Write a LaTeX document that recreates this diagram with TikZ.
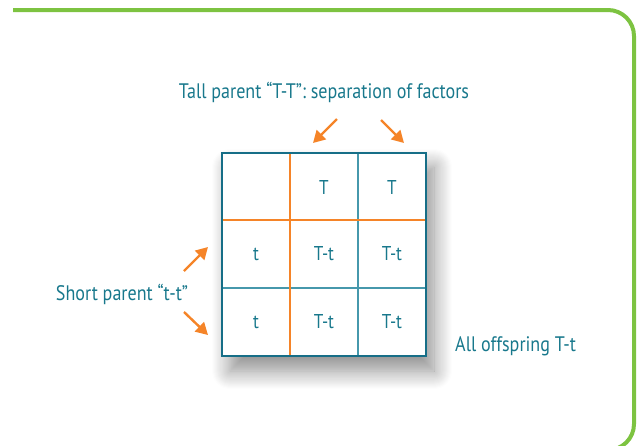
\documentclass[tikz,border=0pt]{standalone}
\usepackage{fontspec}
\setmainfont{PT Sans}[FakeStretch=0.86]
\usetikzlibrary{arrows.meta}
\usetikzlibrary{shadows.blur}

\definecolor{tealtxt}{RGB}{24,120,140}
\definecolor{tealline}{RGB}{22,110,135}
\definecolor{teallight}{RGB}{70,152,172}
\definecolor{punnorange}{RGB}{245,132,40}
\definecolor{framegreen}{RGB}{125,195,65}

\tikzset{
 label text/.style={text=tealtxt, font=\fontsize{21}{24}\selectfont, inner sep=0},
 cell/.style={text=tealtxt, font=\fontsize{20}{24}\selectfont, minimum size=68pt, inner sep=0},
 parent arrow/.style={punnorange, line width=2.4pt, -{Triangle[length=12pt,width=13pt]}},
}

\begin{document}
\begin{tikzpicture}[x=1pt, y=-1pt]
\useasboundingbox (0,0) rectangle (637,445);
\begin{scope}
\clip (0,0) rectangle (637,445);
% frame
\draw[framegreen, line width=4pt] (13,10) -- (608,10) arc[start angle=-90, end angle=0, radius=26]
  -- (634,424) arc[start angle=0, end angle=90, radius=26] -- (560,450);
\end{scope}

% grid with shadow
\fill[white, blur shadow={shadow xshift=8pt, shadow yshift=-14pt, shadow blur radius=18pt, shadow opacity=45, shadow blur steps=18}]
  (222,153) rectangle (426,357);
\foreach \x [count=\i] in {256,324,392} {
 \foreach \y [count=\j] in {187,254,322} {
  \node[cell] (c\j\i) at (\x,\y) {};
 }
}
\node[cell] at (c12) {T};
\node[cell] at (c13) {T};
\node[cell] at (c21) {t};
\node[cell] at (c31) {t};
\foreach \a/\b in {22/23,32/33} {
 \node[cell] at (c\a) {T-t};
 \node[cell] at (c\b) {T-t};
}
\draw[teallight, line width=1.5pt] (c13.north west) -- (c33.south west);
\draw[teallight, line width=1.5pt] (c31.north west) -- (c33.north east);
\draw[punnorange, line width=1.8pt] (c12.north west) -- (c32.south west);
\draw[punnorange, line width=1.8pt] (c21.north west) -- (c23.north east);
\draw[tealline, line width=2pt] (c11.north west) rectangle (c33.south east);

% labels
\node[label text] (tall) at (324,92) {Tall parent “T-T”: separation of factors};
\node[label text] (short) at (122,294) {Short parent “t-t”};
\node[label text, anchor=west] (all) at (455,346) {All offspring T-t};

% arrows
\coordinate (tl0) at (337,119);
\coordinate (tl1) at (313,143);
\coordinate (tr0) at (381,120);
\coordinate (tr1) at (404,143);
\coordinate (su0) at (184,271);
\coordinate (su1) at (208,247);
\coordinate (sd0) at (184,312);
\coordinate (sd1) at (208,335);
\foreach \p in {tl,tr,su,sd}
 \draw[parent arrow] (\p0) -- (\p1);
\end{tikzpicture}
\end{document}
